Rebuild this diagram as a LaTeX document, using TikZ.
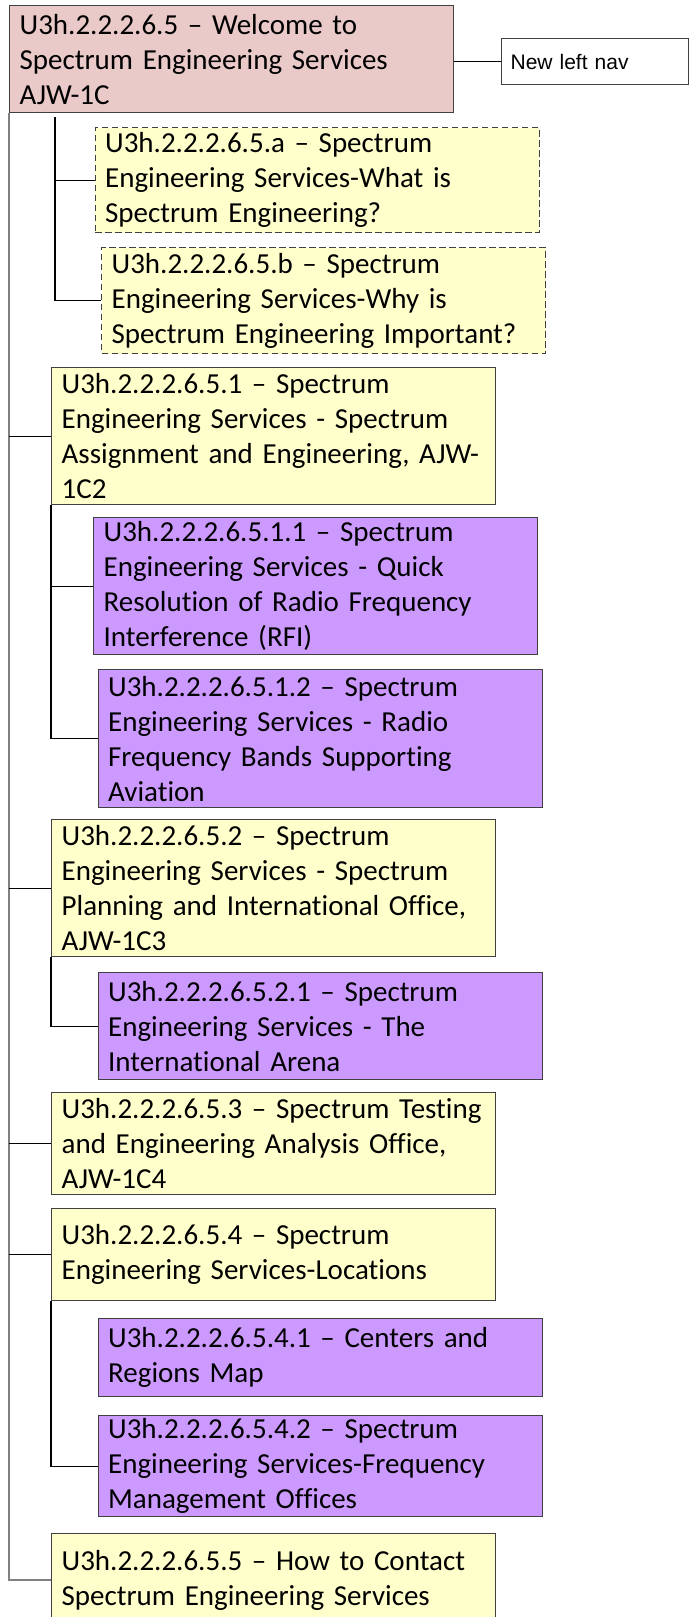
\documentclass[tikz,border=0pt]{standalone}
\usepackage{fontspec}
\setmainfont{Carlito}[Ligatures=NoCommon]
\newfontfamily\navfont{Liberation Sans}
\usetikzlibrary{positioning}
\definecolor{rootpink}{RGB}{234,201,201}
\definecolor{pageyellow}{RGB}{255,255,204}
\definecolor{subpurple}{RGB}{204,153,255}
\definecolor{boxline}{RGB}{64,64,64}
\tikzset{
  page/.style={draw=boxline, line width=1.3pt, anchor=north west, align=left, text width=424pt, inner xsep=10pt, inner ysep=1pt, font=\fontsize{29}{35}\selectfont},
  rootpage/.style={page, fill=rootpink},
  toppage/.style={page, fill=pageyellow},
  subpage/.style={page, fill=subpurple},
  draftpage/.style={page, fill=pageyellow, dash pattern=on 6.5pt off 3.5pt},
  note/.style={draw=boxline, line width=1.3pt, anchor=north west, align=left, text width=169pt, inner xsep=9pt, minimum height=46pt, font=\navfont\fontsize{21}{25}\selectfont},
  trunk/.style={draw=black!50, line width=2pt},
  link/.style={draw=black, line width=1.1pt}
}

\begin{document}
\begin{tikzpicture}[x=1pt,y=-1pt]
\useasboundingbox (0,0) rectangle (689,1617);

% Top page and nav note
\node[rootpage, minimum height=107pt] (root) at (9,5) {U3h.2.2.2.6.5 – Welcome to\\Spectrum Engineering Services\\AJW-1C};
\node[note] (nav) at (501,38) {New left nav};

% Draft pages (dashed)
\node[draftpage, minimum height=105pt] (sa) at (94.5,127) {U3h.2.2.2.6.5.a – Spectrum\\Engineering Services-What is\\Spectrum Engineering?};
\node[draftpage, minimum height=106pt] (sb) at (101,247) {U3h.2.2.2.6.5.b – Spectrum\\Engineering Services-Why is\\Spectrum Engineering Important?};

% Section 5.1 and its pages
\node[toppage, minimum height=137pt] (p1) at (51,367) {U3h.2.2.2.6.5.1 – Spectrum\\Engineering Services - Spectrum\\Assignment and Engineering, AJW-\\1C2};
\node[subpage, minimum height=137pt] (p11) at (93,517) {U3h.2.2.2.6.5.1.1 – Spectrum\\Engineering Services - Quick\\Resolution of Radio Frequency\\Interference (RFI)};
\node[subpage, minimum height=138pt] (p12) at (97.5,669) {U3h.2.2.2.6.5.1.2 – Spectrum\\Engineering Services - Radio\\Frequency Bands Supporting\\Aviation};

% Section 5.2
\node[toppage, minimum height=137pt] (p2) at (51,819) {U3h.2.2.2.6.5.2 – Spectrum\\Engineering Services - Spectrum\\Planning and International Office,\\AJW-1C3};
\node[subpage, minimum height=107pt] (p21) at (97.5,972) {U3h.2.2.2.6.5.2.1 – Spectrum\\Engineering Services - The\\International Arena};

% Section 5.3
\node[toppage, minimum height=102pt] (p3) at (51,1092) {U3h.2.2.2.6.5.3 – Spectrum Testing\\and Engineering Analysis Office,\\AJW-1C4};

% Section 5.4
\node[toppage, minimum height=92pt] (p4) at (51,1208) {U3h.2.2.2.6.5.4 – Spectrum\\Engineering Services-Locations};
\node[subpage, minimum height=78pt] (p41) at (97.5,1318) {U3h.2.2.2.6.5.4.1 – Centers and\\Regions Map};
\node[subpage, minimum height=101pt] (p42) at (97.5,1415) {U3h.2.2.2.6.5.4.2 – Spectrum\\Engineering Services-Frequency\\Management Offices};

% Section 5.5
\node[toppage, minimum height=93pt] (p5) at (51,1533) {U3h.2.2.2.6.5.5 – How to Contact\\Spectrum Engineering Services};

% Nav link
\draw[link] (nav.west) -- (nav.west -| root.east);

% Main trunk
\draw[trunk] (root.south west) |- (p5.west);
\foreach \n in {p1,p2,p3,p4}
  \draw[link] (root.south west |- \n.west) -- (\n.west);

% Draft branch
\coordinate (fork) at (55,117);
\draw[link] (fork) |- (sb.west);
\draw[link] (fork |- sa.west) -- (sa.west);

% Sub branches
\draw[link] (p1.south west) |- (p12.west);
\draw[link] (p1.south west |- p11.west) -- (p11.west);
\draw[link] (p2.south west) |- (p21.west);
\draw[link] (p4.south west) |- (p42.west);

\end{tikzpicture}
\end{document}
